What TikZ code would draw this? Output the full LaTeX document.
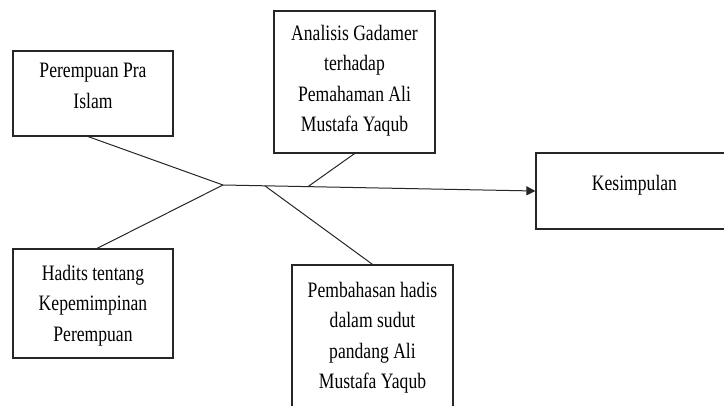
\documentclass[tikz,border=0pt]{standalone}
\usepackage{fontspec}
\setmainfont[FakeStretch=0.8]{Liberation Serif}
\usetikzlibrary{calc,arrows.meta}
\begin{document}
\begin{tikzpicture}[x=1pt,y=-1pt,
  boxnode/.style={draw=black!85,line width=1.2pt,rectangle,inner sep=0pt},
  txt/.style={anchor=north,align=center,inner sep=0pt,font=\fontsize{22}{30.5}\selectfont},
  conn/.style={draw=black!85,line width=1pt}]
\useasboundingbox (0,0) rectangle (724,405);
% boxes
\node[boxnode,minimum width=160,minimum height=85] (b1) at (93,93.5) {};
\node[boxnode,minimum width=161,minimum height=142] (b2) at (354.5,82) {};
\node[boxnode,minimum width=160,minimum height=109] (b3) at (93,303.5) {};
\node[boxnode,minimum width=161,minimum height=155] (b4) at (372.5,342.5) {};
\node[boxnode,minimum width=204,minimum height=76] (b5) at (638,191) {};
% texts
\node[txt] (t1) at (93,63) {Perempuan Pra\\Islam};
\node[txt] (t2) at (354.5,25) {Analisis Gadamer\\terhadap\\Pemahaman Ali\\Mustafa Yaqub};
\node[txt] (t3) at (93,265) {Hadits tentang\\Kepemimpinan\\Perempuan};
\node[txt] (t4) at (372.5,282) {Pembahasan hadis\\dalam sudut\\pandang Ali\\Mustafa Yaqub};
\node[txt] (t5) at (634.5,175) {Kesimpulan};
% connectors
\coordinate (J) at (223,185);
\coordinate (S4) at ($(J)!0.134!(b5.west)$);
\coordinate (S2) at ($(J)!0.272!(b5.west)$);
\draw[conn] ($(b1.south west)!0.47!(b1.south east)$) -- (J);
\draw[conn] ($(b3.north west)!0.525!(b3.north east)$) -- (J);
\draw[conn,-{Triangle[length=9pt,width=9pt]}] (J) -- (b5.west);
\draw[conn] (b2.south) -- (S2);
\draw[conn] (S4) -- (b4.north);
\end{tikzpicture}
\end{document}
